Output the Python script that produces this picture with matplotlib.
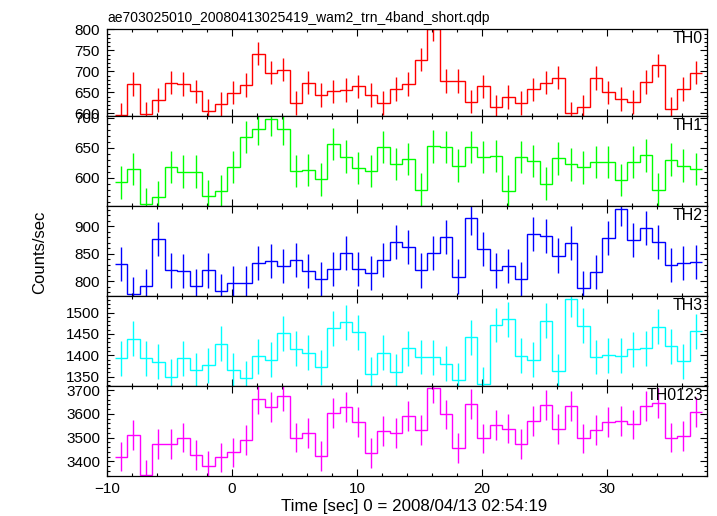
import numpy as np
import matplotlib
matplotlib.use("Agg")
import matplotlib.pyplot as plt
from matplotlib.ticker import MultipleLocator

plt.rcParams['font.family'] = ['Liberation Sans', 'DejaVu Sans']

title = "ae703025010_20080413025419_wam2_trn_4band_short.qdp"
xlabel = "Time [sec] 0 = 2008/04/13 02:54:19"
ylabel = "Counts/sec"

t_first_center = -8.9
bin_width = 1.0

panel_names = ["TH0", "TH1", "TH2", "TH3", "TH0123"]
panel_colors = ["#ff0000", "#00ff00", "#0000ff", "#00ffff", "#ff00ff"]

th0 = [596, 670, 598, 632, 673, 670, 652, 606, 622, 649, 668, 742, 697, 704, 624, 673,
       644, 652, 656, 664, 644, 624, 658, 670, 728, 800, 677, 677, 628, 664, 615, 639,
       625, 657, 673, 685, 600, 615, 684, 650, 634, 627, 675, 714, 610, 658, 697]
th1 = [592, 614, 556, 568, 618, 610, 610, 569, 578, 618, 668, 681, 697, 681, 611, 613,
       597, 656, 635, 616, 611, 651, 623, 631, 580, 652, 651, 620, 651, 634, 636, 578,
       634, 628, 590, 632, 622, 617, 626, 626, 596, 626, 637, 580, 630, 620, 614]
th2 = [832, 777, 791, 877, 820, 819, 791, 820, 783, 797, 797, 834, 837, 828, 839, 819,
       804, 822, 851, 822, 816, 839, 872, 862, 820, 852, 880, 809, 915, 859, 820, 828,
       804, 886, 883, 847, 870, 788, 817, 879, 931, 876, 897, 872, 830, 834, 836]
th3 = [1393, 1439, 1393, 1385, 1350, 1393, 1365, 1377, 1427, 1365, 1346, 1398, 1389, 1452, 1415, 1406,
       1372, 1463, 1478, 1454, 1356, 1406, 1361, 1417, 1396, 1395, 1380, 1342, 1442, 1332, 1471, 1485,
       1399, 1389, 1481, 1362, 1531, 1469, 1396, 1400, 1399, 1414, 1416, 1467, 1421, 1386, 1456]
th0123 = [3420, 3509, 3343, 3471, 3471, 3500, 3427, 3382, 3416, 3437, 3488, 3661, 3627, 3675, 3500, 3521,
          3424, 3603, 3627, 3565, 3436, 3528, 3521, 3589, 3533, 3707, 3597, 3454, 3642, 3496, 3551, 3538,
          3472, 3568, 3637, 3534, 3634, 3496, 3530, 3564, 3571, 3555, 3633, 3644, 3500, 3506, 3609]

errors = [28, 27, 31, 41, 63]
ylims = [(593.5, 801), (552.8, 702.8), (773.6, 937), (1328, 1539), (3338, 3717)]
ymajor = [50, 50, 50, 50, 100]
yminor = [10, 10, 10, 10, 20]
xlim = (-10, 38)

series = [th0, th1, th2, th3, th0123]

W, H = 717, 516
fig = plt.figure(figsize=(W / 100, H / 100), dpi=100)
gs = fig.add_gridspec(5, 1, left=107 / W, right=707 / W, top=1 - 29 / H, bottom=1 - 476 / H,
                      hspace=0, height_ratios=[87, 90, 90, 90, 90])

for k in range(5):
    ax = fig.add_subplot(gs[k])
    vals = np.array(series[k], dtype=float)
    n = len(vals)
    centers = t_first_center + np.arange(n) * bin_width
    edges = np.concatenate([centers - bin_width / 2, [centers[-1] + bin_width / 2]])
    ax.stairs(vals, edges, baseline=None, color=panel_colors[k], lw=1.0)
    ax.errorbar(centers, vals, yerr=errors[k], fmt='none', ecolor=panel_colors[k],
                elinewidth=1.0, capsize=0)
    ax.set_xlim(*xlim)
    ax.set_ylim(*ylims[k])
    ax.xaxis.set_major_locator(MultipleLocator(10))
    ax.xaxis.set_minor_locator(MultipleLocator(2))
    ax.yaxis.set_major_locator(MultipleLocator(ymajor[k]))
    ax.yaxis.set_minor_locator(MultipleLocator(yminor[k]))
    ax.tick_params(which='both', direction='in', top=True, right=True, labelsize=11,
                   width=0.8, colors='black')
    ax.tick_params(which='major', length=5)
    ax.tick_params(which='minor', length=2.5)
    ax.tick_params(axis='y', pad=5)
    for s in ax.spines.values():
        s.set_linewidth(0.9)
    if k < 4:
        ax.tick_params(labelbottom=False)
    else:
        ax.tick_params(axis='x', pad=4)
    ax.text(0.993, 0.975, panel_names[k], transform=ax.transAxes, ha='right', va='top',
            fontsize=11.5)

fig.text(107 / W, 1 - 22 / H, title, ha='left', va='baseline', fontsize=10)
fig.text(40 / W, 1 - 252 / H, ylabel, rotation=90, ha='center', va='center', fontsize=12)
fig.text(414 / W, 1 - 506 / H, xlabel, ha='center', va='center', fontsize=12.2)

fig.savefig("out.png", dpi=100)
